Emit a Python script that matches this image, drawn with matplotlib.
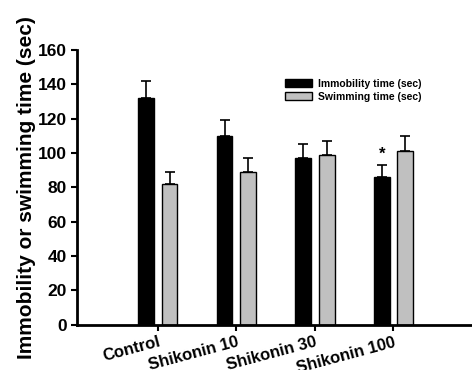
import numpy as np
import matplotlib.pyplot as plt

plt.rcParams['font.family'] = ['Liberation Sans', 'DejaVu Sans']

groups = ["Control", "Shikonin 10", "Shikonin 30", "Shikonin 100"]
immobility = [132, 110, 97, 86]
immobility_err = [10, 9, 8, 7]
swimming = [82, 89, 99, 101]
swimming_err = [7, 8, 8, 9]

x = np.arange(len(groups))
w = 0.2

fig = plt.figure(figsize=(4.72, 3.70), dpi=100)
ax = fig.add_axes([0.163, 0.122, 0.837, 0.743])

ax.bar(x - 0.15, immobility, w, color="black", edgecolor="black", linewidth=1,
       label="Immobility time (sec)")
ax.bar(x + 0.15, swimming, w, color="#c0c0c0", edgecolor="black", linewidth=1,
       label="Swimming time (sec)")
ax.errorbar(x - 0.15, immobility, yerr=[np.zeros(4), immobility_err], fmt="none",
            ecolor="black", elinewidth=1.2, capsize=3.5, capthick=1.2)
ax.errorbar(x + 0.15, swimming, yerr=[np.zeros(4), swimming_err], fmt="none",
            ecolor="black", elinewidth=1.2, capsize=3.5, capthick=1.2)

# significance mark
ax.text(x[3] - 0.15, immobility[3] + immobility_err[3] + 2, "*", ha="center",
        va="bottom", fontsize=12, fontweight="bold")

ax.set_xlim(-1.03, 4.0)
ax.set_ylim(0, 160)
ax.set_yticks(np.arange(0, 161, 20))
ax.set_xticks(x)
ax.set_xticklabels(groups, rotation=15, fontsize=12, fontweight="bold",
                   ha="right", rotation_mode="anchor")
for lab in ax.get_yticklabels():
    lab.set_fontweight("bold")
    lab.set_fontsize(12.5)

ax.spines["top"].set_visible(False)
ax.spines["right"].set_visible(False)
ax.spines["left"].set_linewidth(2)
ax.spines["bottom"].set_linewidth(2)
ax.tick_params(axis="both", width=1.5, length=4)
ax.tick_params(axis="x", pad=3)

ax.set_ylabel("Immobility or swimming time (sec)", fontsize=15, fontweight="bold",
              labelpad=1)

ax.legend(loc="upper left", bbox_to_anchor=(0.517, 0.91), frameon=False,
          prop={"size": 7.5, "weight": "bold"}, handlelength=2.6, handleheight=0.8,
          labelspacing=0.3, borderaxespad=0, handletextpad=0.5)

fig.savefig("out.png", dpi=100)
